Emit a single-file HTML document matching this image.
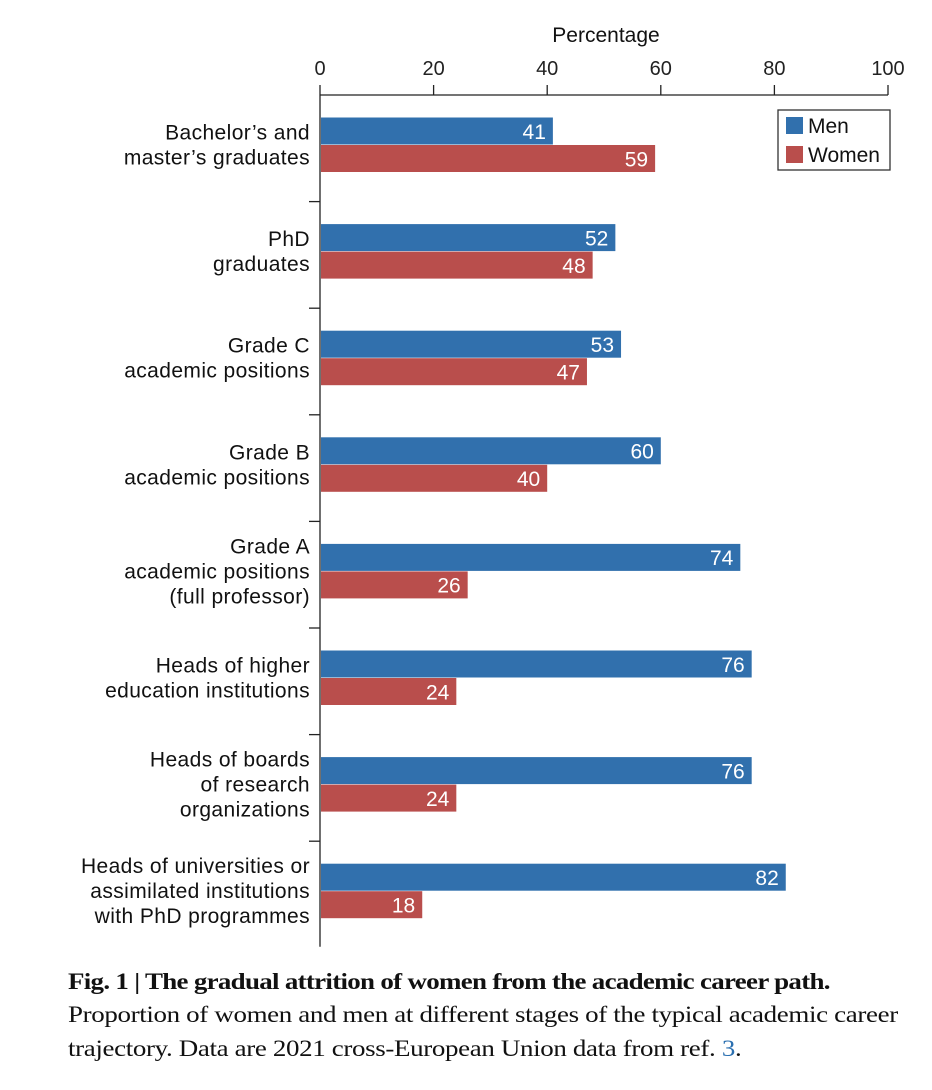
<!DOCTYPE html>
<html><head><meta charset="utf-8"><style>
body{margin:0;background:#fff;width:932px;height:1090px;overflow:hidden;font-family:"Liberation Sans",sans-serif}
svg text{font-family:"Liberation Sans",sans-serif}
.cap{position:absolute;left:68px;font-family:"Liberation Serif",serif;font-size:23px;color:#111;white-space:nowrap;transform:scaleX(1.172);transform-origin:0 0}
</style></head><body>
<svg id="chart" width="932" height="960" style="position:absolute;left:0;top:0"></svg>
<div class="cap" style="top:969px;font-weight:bold;letter-spacing:-0.6px">Fig. 1 | The gradual attrition of women from the academic career path.</div>
<div class="cap" style="top:1002px;letter-spacing:-0.3px">Proportion of women and men at different stages of the typical academic career</div>
<div class="cap" style="top:1036px;letter-spacing:-0.3px">trajectory. Data are 2021 cross-European Union data from ref. <span style="color:#2a6fb0">3</span>.</div>
<script>
const categories=[["Bachelor’s and","master’s graduates"],["PhD","graduates"],["Grade C","academic positions"],["Grade B","academic positions"],["Grade A","academic positions","(full professor)"],["Heads of higher","education institutions"],["Heads of boards","of research","organizations"],["Heads of universities or","assimilated institutions","with PhD programmes"]];
const menValues=[41,52,53,60,74,76,76,82];
const womenValues=[59,48,47,40,26,24,24,18];
const tickLabels=[0,20,40,60,80,100];
const svg=document.getElementById('chart');const NS='http://www.w3.org/2000/svg';
const x0=320,x1=888,yTop=95,band=106.6,barH=27.5;
const xs=v=>x0+(x1-x0)*v/100;
function mk(t,a,p){const e=document.createElementNS(NS,t);for(const k in a)e.setAttribute(k,a[k]);(p||svg).appendChild(e);return e;}
let t=mk('text',{x:606,y:42,'text-anchor':'middle','font-size':21,fill:'#111'});t.textContent='Percentage';


let l=mk('line',{x1:x0,x2:x1,y1:yTop,y2:yTop,stroke:'#222','stroke-width':1.3});


tickLabels.forEach(v=>{const k=mk('line',{x1:xs(v),x2:xs(v),y1:yTop-10,y2:yTop,stroke:'#222','stroke-width':1.3});


const tx=mk('text',{x:xs(v),y:75,'text-anchor':'middle','font-size':20,fill:'#222'});tx.textContent=v;

});
const ya=mk('line',{x1:x0,x2:x0,y1:yTop,y2:yTop+band*categories.length-1,stroke:'#222','stroke-width':1.3});


categories.forEach((c,i)=>{const top=yTop+band*i;const mid=top+50;
if(i>0){const k=mk('line',{x1:x0-11,x2:x0,y1:top,y2:top,stroke:'#222','stroke-width':1.3});

}
const n=c.length;c.forEach((s,j)=>{const tx=mk('text',{x:310,y:mid+7+(j-(n-1)/2)*25,'text-anchor':'end','font-size':21,'letter-spacing':0.4,fill:'#111'});tx.textContent=s;

});
[[menValues[i],'#3170ad',mid-barH,'bar-men'],[womenValues[i],'#b94e4c',mid,'bar-women']].forEach(([v,col,y,nm])=>{
const r=mk('rect',{x:x0+1,y:y,width:xs(v)-x0-1,height:barH-0.5,fill:col});


const tx=mk('text',{x:xs(v)-7,y:y+barH/2+7.5,'text-anchor':'end','font-size':21,fill:'#fff'});tx.textContent=v;

});});
const lg=mk('g',{});

mk('rect',{x:778,y:110,width:112,height:60,fill:'#fff',stroke:'#333','stroke-width':1.3},lg);
[['Men','#3170ad',126],['Women','#b94e4c',155]].forEach(([s,c,y])=>{mk('rect',{x:786,y:y-9,width:17,height:17,fill:c},lg);
const tx=mk('text',{x:808,y:y+7,'font-size':21,fill:'#111'},lg);tx.textContent=s;

});
</script>
</body></html>
